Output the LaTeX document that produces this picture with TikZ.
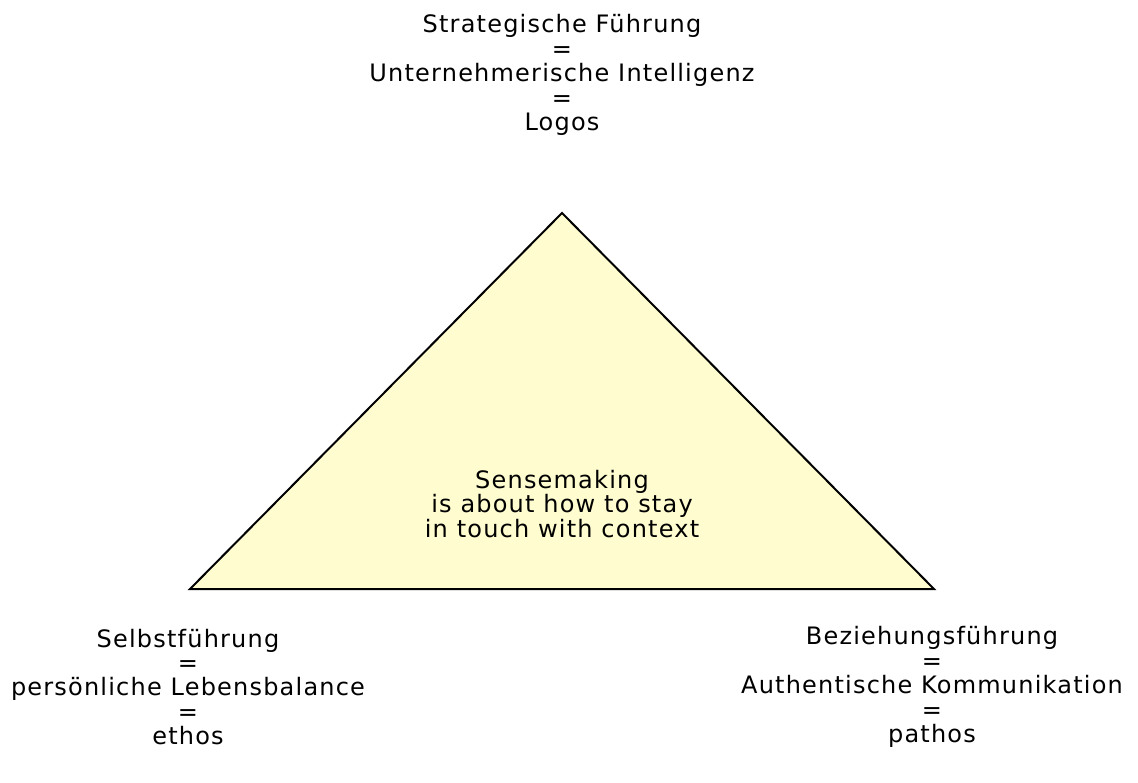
\documentclass[tikz,border=0pt]{standalone}
\usepackage{fontspec}
\setmainfont{DejaVu Sans}
\newfontfamily\labelfont[LetterSpace=5]{DejaVu Sans}
\usepackage{tikz}
\usepackage{xcolor}
\definecolor{senseyellow}{RGB}{255, 253, 208}

\begin{document}
\begin{tikzpicture}[x=1pt, y=-1pt,
    label/.style={align=center, inner sep=0pt, font=\labelfont\fontsize{24}{24.4}\selectfont},
]
    \useasboundingbox (0,0) rectangle (1138,783);
    \coordinate (apex) at (562,213);
    \coordinate (left) at (190,589);
    \coordinate (right) at (934,589);
    \draw[line width=2pt, fill=senseyellow, line join=miter] (apex) -- (right) -- (left) -- cycle;
    \node[label] (logos) at (562,75) {Strategische Führung\\=\\Unternehmerische Intelligenz\\=\\Logos};
    \node[label] (sense) at (562,504) {Sensemaking\\is about how to stay\\in touch with context};
    \node[label] (ethos) at (188,687) {Selbstführung\\=\\persönliche Lebensbalance\\=\\ethos};
    \node[label] (pathos) at (932,687) {Beziehungsführung\\=\\Authentische Kommunikation\\=\\pathos};
\end{tikzpicture}
\end{document}
